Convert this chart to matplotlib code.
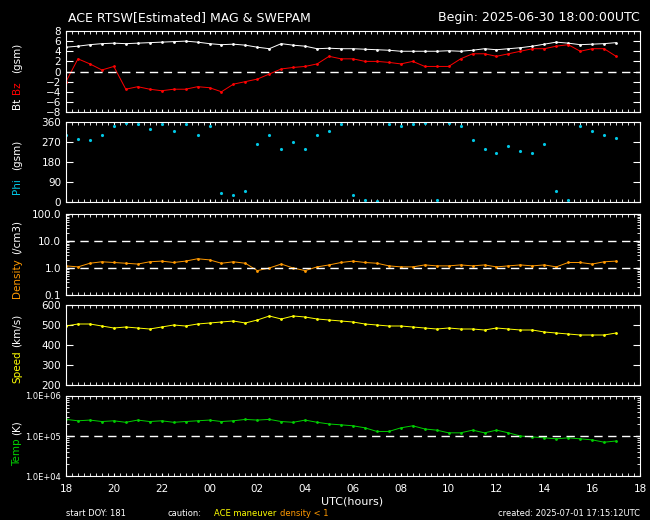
import numpy as np
import matplotlib
matplotlib.use("Agg")
import matplotlib.pyplot as plt
from matplotlib.ticker import MultipleLocator, LogLocator, NullFormatter

# half-hourly samples from 18 UTC (day 181) to 17 UTC next day
hours = np.arange(18, 41.01, 0.5)

bt = [4.8, 5.0, 5.3, 5.5, 5.6, 5.5, 5.6, 5.7, 5.8, 5.9, 6.0, 5.8, 5.5, 5.3, 5.4, 5.2,
      4.8, 4.5, 5.5, 5.2, 5.0, 4.5, 4.6, 4.5, 4.5, 4.4, 4.3, 4.2, 4.0, 4.0, 4.0, 4.0,
      4.1, 4.0, 4.2, 4.5, 4.3, 4.5, 4.7, 5.0, 5.4, 5.8, 5.6, 5.3, 5.4, 5.5, 5.7]
bz = [-2.0, 2.5, 1.5, 0.3, 1.0, -3.5, -3.0, -3.5, -3.8, -3.5, -3.5, -3.0, -3.2, -4.0, -2.5, -2.0,
      -1.5, -0.5, 0.5, 0.8, 1.0, 1.5, 3.0, 2.5, 2.5, 2.0, 2.0, 1.8, 1.5, 2.0, 1.0, 1.0,
      1.0, 2.5, 3.5, 3.5, 3.0, 3.5, 4.0, 4.5, 4.5, 5.0, 5.3, 4.0, 4.5, 4.5, 3.0]
phi = [300, 285, 280, 300, 340, 355, 350, 330, 350, 320, 350, 300, 340, 40, 30, 50,
       260, 300, 240, 270, 240, 300, 320, 350, 30, 10, 5, 350, 340, 350, 355, 10,
       355, 340, 280, 240, 220, 250, 230, 220, 260, 50, 10, 340, 320, 300, 290]
density = [1.2, 1.1, 1.5, 1.7, 1.6, 1.5, 1.4, 1.7, 1.8, 1.6, 1.8, 2.2, 2.0, 1.5, 1.7, 1.5,
           0.8, 1.0, 1.4, 1.0, 0.8, 1.1, 1.3, 1.6, 1.8, 1.6, 1.5, 1.2, 1.1, 1.1, 1.3, 1.2,
           1.2, 1.3, 1.2, 1.3, 1.1, 1.2, 1.3, 1.2, 1.3, 1.1, 1.6, 1.6, 1.4, 1.7, 1.8]
speed = [495, 505, 505, 495, 485, 490, 485, 480, 490, 500, 495, 505, 510, 515, 520, 510,
         525, 545, 530, 545, 540, 530, 525, 520, 515, 505, 500, 495, 495, 490, 485, 480,
         485, 480, 480, 475, 485, 480, 475, 475, 465, 460, 455, 450, 450, 450, 460]
temp = [2.6e5, 2.4e5, 2.5e5, 2.3e5, 2.4e5, 2.2e5, 2.5e5, 2.3e5, 2.4e5, 2.2e5, 2.3e5, 2.4e5,
        2.5e5, 2.3e5, 2.4e5, 2.6e5, 2.5e5, 2.6e5, 2.3e5, 2.2e5, 2.5e5, 2.2e5, 2.0e5, 1.9e5,
        1.8e5, 1.6e5, 1.3e5, 1.3e5, 1.6e5, 1.8e5, 1.5e5, 1.4e5, 1.2e5, 1.2e5, 1.4e5, 1.2e5,
        1.4e5, 1.2e5, 1.0e5, 9.5e4, 9.0e4, 8.5e4, 9.0e4, 8.5e4, 8.0e4, 7.0e4, 7.5e4]

xtick_labels = ["18", "20", "22", "00", "02", "04", "06", "08", "10", "12", "14", "16", "18"]

plt.rcParams["font.family"] = "DejaVu Sans"
fig = plt.figure(figsize=(6.5, 5.2), dpi=100, facecolor="black")

W, H = 650.0, 520.0
L, R = 66, 640
panels = [(31, 112), (122, 202), (214, 295), (305, 385), (396, 476)]


def make_ax(top, bot):
    ax = fig.add_axes([L / W, 1 - bot / H, (R - L) / W, (bot - top) / H], facecolor="black")
    for s in ax.spines.values():
        s.set_color("white")
    ax.tick_params(colors="white", direction="in", labelsize=7.5, top=True, right=True,
                   which="both", length=5)
    ax.tick_params(which="minor", length=2)
    ax.set_xlim(18, 42)
    ax.xaxis.set_major_locator(MultipleLocator(2))
    ax.xaxis.set_minor_locator(MultipleLocator(0.25))
    ax.tick_params(axis="x", which="major", length=2)
    ax.set_xticklabels([])
    return ax


def ylab(parts, top, bot):
    # parts: (text, color, offset_px upward from panel middle)
    mid = (top + bot) / 2
    for txt, col, off in parts:
        fig.text(17 / W, 1 - (mid - off) / H, txt, color=col, rotation=90, fontsize=7.5,
                 ha="center", va="center")


# Bt / Bz
ax1 = make_ax(*panels[0])
ax1.plot(hours, bt, color="white", lw=0.7, marker=".", ms=2)
ax1.plot(hours, bz, color="red", lw=0.7, marker=".", ms=2)
ax1.axhline(0, color="white", ls=(0, (6, 4)), lw=1)
ax1.set_ylim(-8, 8)
ax1.set_yticks(range(-8, 9, 2))
ylab([("Bt", "white", -32), ("Bz", "red", -16), ("(gsm)", "white", 14)], *panels[0])

# Phi
ax2 = make_ax(*panels[1])
ax2.plot(hours, phi, ls="none", color="#00c8e6", marker=".", ms=2.5)
ax2.set_ylim(0, 360)
ax2.set_yticks([0, 90, 180, 270, 360])
ylab([("Phi", "#00c8e6", -24), ("(gsm)", "white", 7)], *panels[1])

# Density
ax3 = make_ax(*panels[2])
ax3.plot(hours, density, color="#ff9900", lw=0.7, marker=".", ms=2)
ax3.set_yscale("log")
ax3.set_ylim(0.1, 100)
ax3.set_yticks([0.1, 1, 10, 100])
ax3.set_yticklabels(["0.1", "1.0", "10.0", "100.0"])
ax3.yaxis.set_minor_locator(LogLocator(subs=np.arange(2, 10)))
ax3.yaxis.set_minor_formatter(NullFormatter())
for v in (1, 10):
    ax3.axhline(v, color="white", ls=(0, (6, 4)), lw=1)
ylab([("Density", "#ff9900", -24), ("(/cm3)", "white", 17)], *panels[2])

# Speed
ax4 = make_ax(*panels[3])
ax4.plot(hours, speed, color="yellow", lw=0.7, marker=".", ms=2)
ax4.set_ylim(200, 600)
ax4.set_yticks([200, 300, 400, 500, 600])
ylab([("Speed", "yellow", -22), ("(km/s)", "white", 15)], *panels[3])

# Temp
ax5 = make_ax(*panels[4])
ax5.plot(hours, temp, color="#00d000", lw=0.7, marker=".", ms=2)
ax5.set_yscale("log")
ax5.set_ylim(1e4, 1e6)
ax5.set_yticks([1e4, 1e5, 1e6])
ax5.set_yticklabels(["1.0E+04", "1.0E+05", "1.0E+06"], fontsize=6)
ax5.yaxis.set_minor_locator(LogLocator(subs=np.arange(2, 10)))
ax5.yaxis.set_minor_formatter(NullFormatter())
ax5.axhline(1e5, color="white", ls=(0, (6, 4)), lw=1)
ax5.set_xticks(np.arange(18, 43, 2))
ax5.set_xticklabels(xtick_labels)
ax5.tick_params(axis="x", pad=6)
ylab([("Temp", "#00d000", -16), ("(K)", "white", 8)], *panels[4])

fig.text(352 / W, 1 - 502 / H, "UTC(hours)", color="white", fontsize=8, ha="center", va="center")
fig.text(68 / W, 1 - 18 / H, "ACE RTSW[Estimated] MAG & SWEPAM", color="white", fontsize=9,
         va="center")
fig.text(640 / W, 1 - 18 / H, "Begin: 2025-06-30 18:00:00UTC", color="white", fontsize=9,
         ha="right", va="center")
fig.text(66 / W, 1 - 513 / H, "start DOY: 181", color="white", fontsize=6, va="center")
fig.text(168 / W, 1 - 513 / H, "caution:", color="white", fontsize=6, va="center")
fig.text(214 / W, 1 - 513 / H, "ACE maneuver", color="yellow", fontsize=6, va="center")
fig.text(280 / W, 1 - 513 / H, "density < 1", color="#ff9900", fontsize=6, va="center")
fig.text(640 / W, 1 - 513 / H, "created: 2025-07-01 17:15:12UTC", color="white", fontsize=6,
         ha="right", va="center")

fig.savefig("out.png", dpi=100, facecolor="black")
